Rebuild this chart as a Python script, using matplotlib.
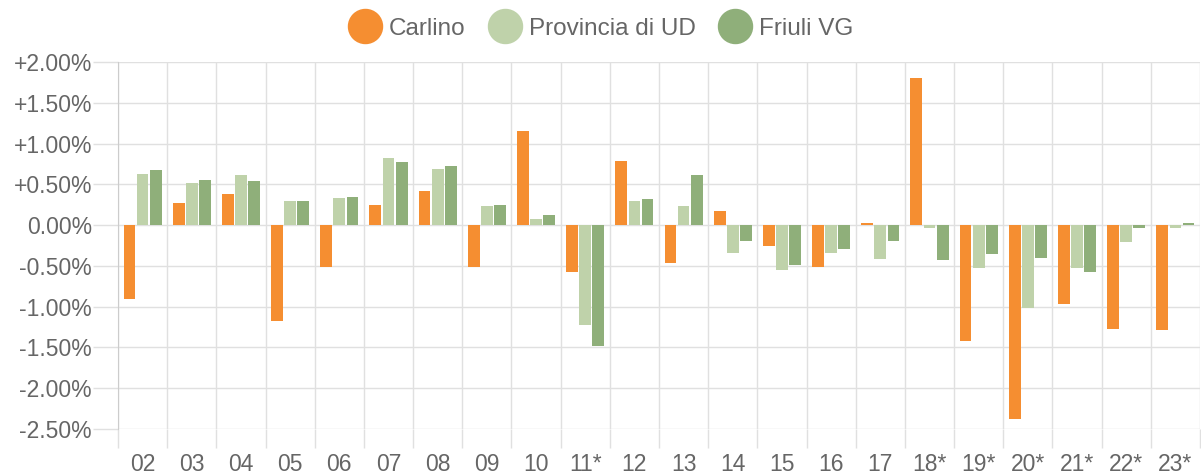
import numpy as np
import matplotlib
matplotlib.use("Agg")
import matplotlib.pyplot as plt
from matplotlib.lines import Line2D
from matplotlib.ticker import FixedLocator, FuncFormatter

categories = ["02", "03", "04", "05", "06", "07", "08", "09", "10", "11*", "12",
              "13", "14", "15", "16", "17", "18*", "19*", "20*", "21*", "22*", "23*"]
carlino = [-0.90, 0.27, 0.385, -1.18, -0.51, 0.25, 0.42, -0.51, 1.15, -0.58, 0.79,
           -0.47, 0.17, -0.26, -0.51, 0.03, 1.80, -1.42, -2.38, -0.97, -1.27, -1.29]
provincia_ud = [0.63, 0.52, 0.61, 0.29, 0.33, 0.82, 0.69, 0.23, 0.08, -1.23, 0.30,
                0.24, -0.34, -0.55, -0.34, -0.41, -0.03, -0.53, -1.02, -0.52, -0.21, -0.04]
friuli_vg = [0.67, 0.55, 0.54, 0.29, 0.35, 0.77, 0.72, 0.25, 0.13, -1.48, 0.32,
             0.61, -0.19, -0.49, -0.29, -0.20, -0.43, -0.36, -0.40, -0.58, -0.03, 0.02]

series = [
    ("Carlino", carlino, "#f58e31"),
    ("Provincia di UD", provincia_ud, "#bfd2aa"),
    ("Friuli VG", friuli_vg, "#8faf7a"),
]

plt.rcParams["font.family"] = ["Liberation Sans", "DejaVu Sans"]
TEXT = "#666666"
GRID = "#e0e0e0"

fig = plt.figure(figsize=(12.01, 4.75), dpi=100)
ax = fig.add_axes([118 / 1201, 46 / 475, 1082 / 1201, 367 / 475])

x = np.arange(len(categories))
slot = 0.8 / 3
for i, (name, values, color) in enumerate(series):
    ax.bar(x + (i - 1) * slot, values, width=slot * 0.9, color=color, zorder=3)

ax.set_xlim(-0.5, len(categories) - 0.5)
ax.set_ylim(-2.5, 2.0)

ax.yaxis.set_major_locator(FixedLocator(np.arange(-2.5, 2.01, 0.5)))
ax.yaxis.set_major_formatter(FuncFormatter(lambda v, _: f"{v:+.2f}%" if abs(v) > 1e-9 else "0.00%"))
ax.set_xticks(x, categories)
ax.set_xticks(np.arange(-0.5, len(categories), 1.0), minor=True)

ax.tick_params(axis="y", length=18, width=1, color=GRID, labelcolor=TEXT, labelsize=16.5, pad=0.8)
ax.tick_params(axis="x", which="major", length=0, labelcolor=TEXT, labelsize=16.5, pad=17)
ax.tick_params(axis="x", which="minor", length=14, width=1, color=GRID)

ax.grid(axis="y", color=GRID, linewidth=1, zorder=0)
ax.grid(axis="x", which="minor", color=GRID, linewidth=1, zorder=0)
for side in ["top", "right", "bottom"]:
    ax.spines[side].set_visible(False)
ax.spines["left"].set_color("#cccccc")

handles = [Line2D([], [], linestyle="none", marker="o", markersize=24.5,
                  markerfacecolor=c, markeredgecolor=c) for _, _, c in series]
fig.legend(handles, [n for n, _, _ in series], loc="center", bbox_to_anchor=(0.5, 0.94),
           ncols=3, frameon=False, fontsize=17.5, labelcolor=TEXT,
           handletextpad=0.3, columnspacing=0.9, handlelength=1.4)

fig.savefig("out.png", dpi=100)
